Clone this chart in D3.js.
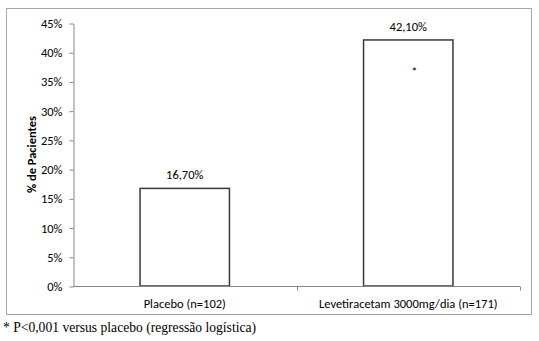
<!DOCTYPE html>
<html>
<head>
<meta charset="utf-8">
<script src="https://cdn.jsdelivr.net/npm/d3@7"></script>
<style>
  html, body { margin: 0; padding: 0; background: #fff; }
  svg { display: block; }
</style>
</head>
<body>
<svg id="chart" width="539" height="341"></svg>
<script>
// Share of patients responding, per treatment arm
const categories = ["Placebo (n=102)", "Levetiracetam 3000mg/dia (n=171)"];
const values = [16.7, 42.1];
const valueLabels = ["16,70%", "42,10%"];
const significance = ["", "*"];
const yTicks = [0, 5, 10, 15, 20, 25, 30, 35, 40, 45];
const yTickLabels = ["0%", "5%", "10%", "15%", "20%", "25%", "30%", "35%", "40%", "45%"];
const yTitle = "% de Pacientes";
const footnote = "* P<0,001 versus placebo (regressão logística)";

const svg = d3.select("#chart");
const labelFont = "Carlito, 'Open Sans', 'Liberation Sans', sans-serif";
const fontSize = 12.5;
const axisColor = "#868686";

// Outer frame
svg.append("rect")
  .attr("x", 6.5).attr("y", 8.5)
  .attr("width", 525).attr("height", 306)
  .attr("fill", "#fff").attr("stroke", "#a6a6a6").attr("stroke-width", 1);

const plot = { left: 73, right: 520, top: 23, bottom: 286 };

const x = d3.scaleBand()
  .domain(categories)
  .range([plot.left, plot.right])
  .paddingInner(0.6)
  .paddingOuter(0.3);

const y = d3.scaleLinear()
  .domain([0, 45])
  .range([plot.bottom, plot.top]);

// Bars
svg.append("g").selectAll("rect")
  .data(categories)
  .join("rect")
  .attr("x", d => x(d))
  .attr("y", (d, i) => y(values[i]))
  .attr("width", x.bandwidth())
  .attr("height", (d, i) => y(0) - y(values[i]))
  .attr("fill", "#fff")
  .attr("stroke", "#3a3a3a")
  .attr("stroke-width", 1.5);

// Y axis
const yAxis = d3.axisLeft(y)
  .tickValues(yTicks)
  .tickFormat((d, i) => yTickLabels[i])
  .tickSizeInner(4)
  .tickSizeOuter(0)
  .tickPadding(7);

const gy = svg.append("g")
  .attr("transform", `translate(${plot.left + 0.5},0.5)`)
  .call(yAxis);
gy.selectAll("path, line").attr("stroke", axisColor);
gy.selectAll("text")
  .attr("font-family", labelFont)
  .attr("font-size", fontSize)
  .attr("fill", "#000");

// X axis: baseline with tick marks at category boundaries
const gx = svg.append("g").attr("transform", `translate(0,${plot.bottom + 0.5})`);
gx.append("line")
  .attr("x1", plot.left).attr("x2", plot.right)
  .attr("stroke", axisColor);
const boundaries = d3.range(categories.length + 1).map(i => plot.left + i * (plot.right - plot.left) / categories.length);
gx.selectAll("line.tick")
  .data(boundaries.slice(1))
  .join("line")
  .attr("class", "tick")
  .attr("x1", d => Math.round(d) + 0.5).attr("x2", d => Math.round(d) + 0.5)
  .attr("y1", 0).attr("y2", 4)
  .attr("stroke", axisColor);
gx.selectAll("text")
  .data(categories)
  .join("text")
  .attr("x", d => x(d) + x.bandwidth() / 2)
  .attr("y", 21)
  .attr("text-anchor", "middle")
  .attr("font-family", labelFont)
  .attr("font-size", fontSize)
  .text(d => d);

// Value labels above the bars
svg.append("g").selectAll("text")
  .data(categories)
  .join("text")
  .attr("x", d => x(d) + x.bandwidth() / 2)
  .attr("y", (d, i) => y(values[i]) - 9)
  .attr("text-anchor", "middle")
  .attr("font-family", labelFont)
  .attr("font-size", fontSize)
  .text((d, i) => valueLabels[i]);

// Significance marker inside the bar
svg.append("g").selectAll("text")
  .data(categories)
  .join("text")
  .attr("x", d => x(d) + x.bandwidth() / 2 + 6)
  .attr("y", (d, i) => y(values[i]) + 36)
  .attr("text-anchor", "middle")
  .attr("font-family", labelFont)
  .attr("font-size", fontSize)
  .text((d, i) => significance[i]);

// Y axis title
svg.append("text")
  .attr("transform", `translate(36,${(plot.top + plot.bottom) / 2}) rotate(-90)`)
  .attr("text-anchor", "middle")
  .attr("font-family", labelFont)
  .attr("font-size", fontSize)
  .attr("font-weight", "bold")
  .text(yTitle);

// Footnote
svg.append("text")
  .attr("x", 3)
  .attr("y", 332)
  .attr("font-family", "'Liberation Serif', 'DejaVu Serif', serif")
  .attr("font-size", 13.6)
  .text(footnote);
</script>
</body>
</html>
